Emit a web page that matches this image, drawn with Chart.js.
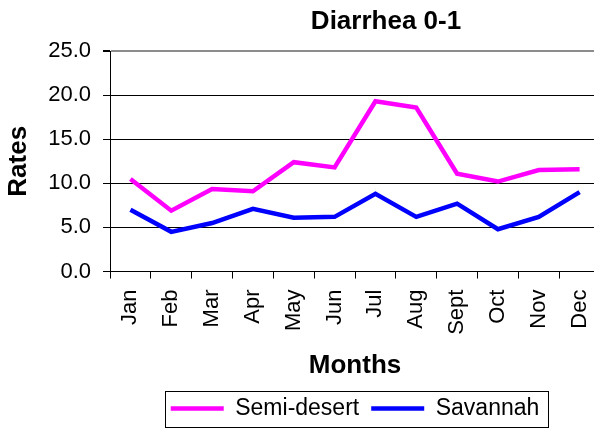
<!DOCTYPE html>
<html>
<head>
<meta charset="utf-8">
<script src="https://cdn.jsdelivr.net/npm/chart.js@4"></script>
<style>
  html, body { margin: 0; padding: 0; background: #fff; overflow: hidden; }
  #wrap { width: 617px; height: 430px; position: relative; }
</style>
</head>
<body>
<div id="wrap"><canvas id="grafico"></canvas></div>
<script>
// ── Datos ──
const meses = ['Jan', 'Feb', 'Mar', 'Apr', 'May', 'Jun', 'Jul', 'Aug', 'Sept', 'Oct', 'Nov', 'Dec'];
const semiDesierto = [10.5, 6.9, 9.35, 9.1, 12.4, 11.8, 19.3, 18.6, 11.1, 10.2, 11.5, 11.6];
const sabana = [7.0, 4.5, 5.5, 7.1, 6.1, 6.2, 8.8, 6.2, 7.7, 4.8, 6.2, 9.0];
const tituloTexto = 'Diarrhea 0-1';

const FUENTE = "'Liberation Sans', Arial, sans-serif";

// Título desplazado a la derecha (estilo Excel)
const tituloPlugin = {
  id: 'tituloExcel',
  afterDraw(chart) {
    const ctx = chart.ctx;
    ctx.save();
    ctx.font = `bold 26px ${FUENTE}`;
    ctx.fillStyle = '#000';
    ctx.textAlign = 'center';
    ctx.textBaseline = 'alphabetic';
    ctx.fillText(tituloTexto, 386, 29);
    ctx.restore();
  }
};

// Marco alrededor de la leyenda
const marcoLeyenda = {
  id: 'marcoLeyenda',
  afterDraw(chart) {
    const cajas = chart.legend && chart.legend.legendHitBoxes;
    if (!cajas || !cajas.length) return;
    const izq = Math.min(...cajas.map(b => b.left)) - 6;
    const der = Math.max(...cajas.map(b => b.left + b.width)) + 8;
    const arr = Math.min(...cajas.map(b => b.top)) - 6;
    const aba = Math.max(...cajas.map(b => b.top + b.height)) + 7;
    const ctx = chart.ctx;
    ctx.save();
    ctx.strokeStyle = '#000';
    ctx.lineWidth = 1;
    ctx.strokeRect(Math.round(izq) + 0.5, Math.round(arr) + 0.5, Math.round(der - izq), Math.round(aba - arr));
    ctx.restore();
  }
};

new Chart(document.getElementById('grafico'), {
  type: 'line',
  data: {
    labels: meses,
    datasets: [
      {
        label: 'Semi-desert',
        data: semiDesierto,
        borderColor: '#FF00FF',
        backgroundColor: '#FF00FF',
        borderWidth: 4.5,
        pointRadius: 0,
        tension: 0,
      },
      {
        label: 'Savannah',
        data: sabana,
        borderColor: '#0000FF',
        backgroundColor: '#0000FF',
        borderWidth: 4.5,
        pointRadius: 0,
        tension: 0,
      }
    ]
  },
  options: {
    responsive: true,
    maintainAspectRatio: false,
    animation: false,
    layout: { padding: { top: 51, left: 0, right: 0, bottom: 0 } },
    plugins: {
      title: { display: false },
      tooltip: { enabled: false },
      legend: {
        display: true,
        position: 'bottom',
        fullSize: false,
        labels: {
          font: { family: FUENTE, size: 23 },
          color: '#000',
          usePointStyle: true,
          pointStyle: 'line',
          pointStyleWidth: 53,
          boxHeight: 23,
          padding: 12,
        }
      }
    },
    scales: {
      x: {
        offset: true,
        grid: {
          offset: true,
          drawOnChartArea: false,
          drawTicks: true,
          tickLength: 7,
          color: '#000',
        },
        border: { display: true, color: '#000', width: 1 },
        ticks: {
          font: { family: FUENTE, size: 22 },
          color: '#000',
          maxRotation: 90,
          minRotation: 90,
          padding: 11,
          autoSkip: false,
        },
        title: {
          display: true,
          text: 'Months',
          font: { family: FUENTE, size: 26, weight: 'bold' },
          color: '#000',
          padding: { top: 4, bottom: 4 },
        }
      },
      y: {
        min: 0,
        max: 25,
        grid: {
          color: c => (c.tick && c.tick.value === 25 ? '#8c8c8c' : '#000'),
          lineWidth: c => (c.tick && c.tick.value === 25 ? 2 : 1),
          tickColor: '#000',
          tickLength: 7,
        },
        border: { display: true, color: '#000', width: 1 },
        ticks: {
          stepSize: 5,
          font: { family: FUENTE, size: 22 },
          color: '#000',
          padding: 12,
          callback: v => v.toFixed(1),
        },
        title: {
          display: true,
          text: 'Rates',
          font: { family: FUENTE, size: 26, weight: 'bold' },
          color: '#000',
          padding: { top: 3, bottom: 2 },
        }
      }
    }
  },
  plugins: [tituloPlugin, marcoLeyenda]
});
</script>
</body>
</html>
